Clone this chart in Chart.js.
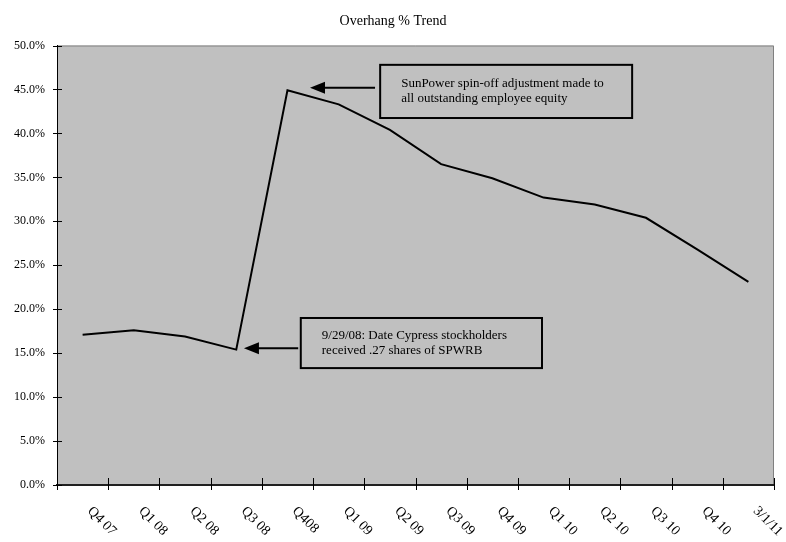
<!DOCTYPE html>
<html>
<head>
<meta charset="utf-8">
<script src="https://cdn.jsdelivr.net/npm/chart.js@4/dist/chart.umd.min.js"></script>
<style>
  html, body { margin: 0; padding: 0; background: #ffffff; }
  #wrap { width: 786px; height: 542px; }
</style>
</head>
<body>
<div id="wrap"><canvas id="chart" width="786" height="542"></canvas></div>
<script>
// Quarter labels along the horizontal axis
const categories = ['Q4 07', 'Q1 08', 'Q2 08', 'Q3 08', 'Q408', 'Q1 09', 'Q2 09',
                    'Q3 09', 'Q4 09', 'Q1 10', 'Q2 10', 'Q3 10', 'Q4 10', '3/1/11'];
// Overhang, in percent
const overhang = [17.1, 17.6, 16.9, 15.4, 44.9, 43.3, 40.4, 36.5, 34.9, 32.7, 31.9, 30.4, 26.8, 23.1];
// Vertical axis range and step, in percent
const yMin = 0, yMax = 50, yStep = 5;
// Callout texts
const noteSpinOff = ['SunPower spin-off adjustment made to', 'all outstanding employee equity'];
const noteRecord = ['9/29/08: Date Cypress stockholders', 'received .27 shares of SPWRB'];

const SERIF = '"Liberation Serif", "Times New Roman", serif';

// Callout placement in axis units (x = category index, y = percent)
const callouts = [
  { lines: noteSpinOff, box: { x0: 5.81, x1: 10.73, y0: 47.8, y1: 41.75 },
    arrow: { fromX: 5.71, toX: 4.44, y: 45.2 } },
  { lines: noteRecord, box: { x0: 4.26, x1: 8.97, y0: 19.0, y1: 13.3 },
    arrow: { fromX: 4.21, toX: 3.15, y: 15.55 } }
];

const plotFrame = {
  id: 'plotFrame',
  beforeDraw(chart) {
    const { ctx, chartArea: a } = chart;
    ctx.save();
    ctx.fillStyle = '#c0c0c0';
    ctx.fillRect(a.left, a.top, a.right - a.left, a.bottom - a.top);
    ctx.strokeStyle = '#808080';
    ctx.lineWidth = 1;
    ctx.beginPath();
    ctx.moveTo(a.left, a.top + 0.5);
    ctx.lineTo(a.right - 0.5, a.top + 0.5);
    ctx.lineTo(a.right - 0.5, a.bottom);
    ctx.stroke();
    ctx.restore();
  },
  afterDraw(chart) {
    const { ctx, chartArea: a, scales } = chart;
    const xs = scales.x, ys = scales.y;
    ctx.save();
    // tick marks crossing both axes
    ctx.strokeStyle = '#000000';
    ctx.lineWidth = 1;
    ctx.beginPath();
    for (let i = 0; i <= categories.length; i++) {
      const x = Math.round(xs.getPixelForValue(i - 0.5)) + 0.5;
      ctx.moveTo(x, a.bottom - 7);
      ctx.lineTo(x, a.bottom + 5);
    }
    for (let v = yMin; v <= yMax; v += yStep) {
      const y = Math.round(ys.getPixelForValue(v)) + 0.5;
      ctx.moveTo(a.left - 4, y);
      ctx.lineTo(a.left + 5, y);
    }
    ctx.stroke();
    // slanted category labels
    ctx.fillStyle = '#000000';
    ctx.font = '14px ' + SERIF;
    ctx.textAlign = 'left';
    ctx.textBaseline = 'middle';
    categories.forEach((label, i) => {
      const x = xs.getPixelForValue(i);
      ctx.save();
      ctx.translate(x + 7, a.bottom + 24);
      ctx.rotate(Math.PI / 4);
      ctx.fillText(label, 0, 0);
      ctx.restore();
    });
    ctx.restore();
  },
  afterDatasetsDraw(chart) {
    const { ctx, scales } = chart;
    const xs = scales.x, ys = scales.y;
    ctx.save();
    callouts.forEach(c => {
      const bx0 = xs.getPixelForValue(c.box.x0), bx1 = xs.getPixelForValue(c.box.x1);
      const by0 = ys.getPixelForValue(c.box.y0), by1 = ys.getPixelForValue(c.box.y1);
      ctx.strokeStyle = '#000000';
      ctx.lineWidth = 2;
      ctx.strokeRect(bx0, by0, bx1 - bx0, by1 - by0);
      ctx.fillStyle = '#000000';
      ctx.font = '13px ' + SERIF;
      ctx.textAlign = 'left';
      ctx.textBaseline = 'middle';
      const midY = (by0 + by1) / 2;
      c.lines.forEach((t, k) => {
        ctx.fillText(t, bx0 + 21, midY + (k - 0.5) * 15);
      });
      // arrow pointing at the line
      const ax0 = xs.getPixelForValue(c.arrow.fromX);
      const ax1 = xs.getPixelForValue(c.arrow.toX);
      const ay = ys.getPixelForValue(c.arrow.y);
      ctx.beginPath();
      ctx.moveTo(ax0, ay);
      ctx.lineTo(ax1 + 14, ay);
      ctx.stroke();
      ctx.beginPath();
      ctx.moveTo(ax1, ay);
      ctx.lineTo(ax1 + 15, ay - 6);
      ctx.lineTo(ax1 + 15, ay + 6);
      ctx.closePath();
      ctx.fill();
    });
    ctx.restore();
  }
};

new Chart(document.getElementById('chart'), {
  type: 'line',
  data: {
    labels: categories,
    datasets: [{
      label: 'Overhang',
      data: overhang,
      borderColor: '#000000',
      borderWidth: 2,
      pointRadius: 0,
      tension: 0,
      fill: false
    }]
  },
  options: {
    responsive: false,
    animation: false,
    layout: { padding: { left: 12, right: 12, top: 0, bottom: 0 } },
    plugins: {
      legend: { display: false },
      tooltip: { enabled: false },
      title: {
        display: true,
        text: 'Overhang % Trend',
        color: '#000000',
        font: { family: SERIF, size: 14, weight: 'normal', lineHeight: 1.2 },
        padding: { top: 13, bottom: 15.7 }
      }
    },
    scales: {
      x: {
        type: 'category',
        offset: true,
        grid: { display: false, drawTicks: false },
        border: { display: true, color: '#202020', width: 2 },
        ticks: { display: false },
        afterFit(scale) { scale.height = 57; }
      },
      y: {
        min: yMin,
        max: yMax,
        grid: { display: false, drawTicks: false },
        border: { display: true, color: '#000000', width: 1 },
        ticks: {
          stepSize: yStep,
          padding: 12,
          color: '#000000',
          font: { family: SERIF, size: 12 },
          callback: v => v.toFixed(1) + '%'
        },
        afterFit(scale) { scale.width = 45; }
      }
    }
  },
  plugins: [plotFrame]
});
</script>
</body>
</html>
